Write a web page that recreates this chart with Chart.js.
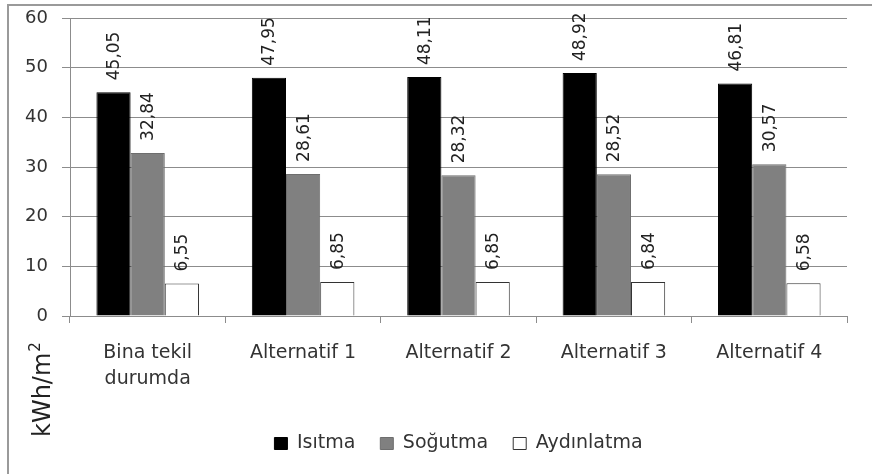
<!DOCTYPE html>
<html>
<head>
<meta charset="utf-8">
<script src="https://cdn.jsdelivr.net/npm/chart.js@4.4.0/dist/chart.umd.min.js"></script>
<style>
  html, body { margin: 0; padding: 0; background: #fff; }
  #wrap { position: relative; width: 872px; height: 474px; overflow: hidden; }
  #frame { position: absolute; left: 7px; top: 4px; width: 900px; height: 500px;
           border-left: 2px solid #9a9a9a; border-top: 2px solid #9a9a9a; }
  canvas { position: absolute; left: 0; top: 0; }
</style>
</head>
<body>
<div id="wrap">
  <div id="frame"></div>
  <canvas id="c" width="872" height="474"></canvas>
</div>
<script>
const categories = [["Bina tekil", "durumda"], "Alternatif 1", "Alternatif 2", "Alternatif 3", "Alternatif 4"];
const seriesNames = ["Isıtma", "Soğutma", "Aydınlatma"];
const isitma = [45.05, 47.95, 48.11, 48.92, 46.81];
const sogutma = [32.84, 28.61, 28.32, 28.52, 30.57];
const aydinlatma = [6.55, 6.85, 6.85, 6.84, 6.58];
const yTicks = [0, 10, 20, 30, 40, 50, 60];

const FONT = "'DejaVu Sans', sans-serif";

const valueLabels = {
  id: 'valueLabels',
  afterDatasetsDraw(chart) {
    const ctx = chart.ctx;
    ctx.save();
    ctx.font = "17px " + FONT;
    ctx.fillStyle = '#222';
    ctx.textAlign = 'left';
    ctx.textBaseline = 'middle';
    chart.data.datasets.forEach((ds, di) => {
      const meta = chart.getDatasetMeta(di);
      meta.data.forEach((el, i) => {
        const txt = ds.data[i].toFixed(2).replace('.', ',');
        ctx.save();
        ctx.translate(el.x + 1, el.y - 12);
        ctx.rotate(-Math.PI / 2);
        ctx.fillText(txt, 0, 0);
        ctx.restore();
      });
    });
    ctx.restore();
  }
};

const yTitle = {
  id: 'yTitle',
  afterDraw(chart) {
    const ctx = chart.ctx;
    ctx.save();
    ctx.fillStyle = '#222';
    ctx.translate(50, 437);
    ctx.rotate(-Math.PI / 2);
    ctx.textAlign = 'left';
    ctx.textBaseline = 'alphabetic';
    ctx.font = "24px " + FONT;
    const main = 'kWh/m';
    ctx.fillText(main, 0, 0);
    const w = ctx.measureText(main).width;
    ctx.font = "15px " + FONT;
    ctx.fillText('2', w + 1, -10);
    ctx.restore();
  }
};

new Chart(document.getElementById('c'), {
  type: 'bar',
  data: {
    labels: categories,
    datasets: [
      { label: seriesNames[0], data: isitma, backgroundColor: '#000000', borderColor: '#000000', borderWidth: 1 },
      { label: seriesNames[1], data: sogutma, backgroundColor: '#808080', borderColor: '#6e6e6e', borderWidth: 1 },
      { label: seriesNames[2], data: aydinlatma, backgroundColor: '#ffffff', borderColor: '#333333', borderWidth: 1 }
    ]
  },
  options: {
    responsive: false,
    animation: false,
    devicePixelRatio: 1,
    layout: { padding: { left: 8, right: 25, top: 18, bottom: 11 } },
    datasets: { bar: { barPercentage: 1.0, categoryPercentage: 0.66 } },
    plugins: {
      legend: {
        position: 'bottom',
        fullSize: false,
        labels: {
          boxWidth: 13, boxHeight: 12, padding: 25,
          color: '#333', font: { family: FONT, size: 19 }
        }
      },
      tooltip: { enabled: false }
    },
    scales: {
      x: {
        grid: { display: true, drawOnChartArea: false, drawTicks: true, tickLength: 7, color: '#8c8c8c', offset: true },
        border: { color: '#8c8c8c' },
        ticks: { color: '#333', font: { family: FONT, size: 19, lineHeight: 1.37 }, padding: 17, maxRotation: 0, autoSkip: false },
        afterFit(s) { s.height = 93; }
      },
      y: {
        min: 0, max: 60,
        afterBuildTicks(s) { s.ticks = yTicks.map(v => ({ value: v })); },
        grid: { color: '#8c8c8c', tickLength: 8 },
        border: { color: '#8c8c8c' },
        ticks: { color: '#333', font: { family: FONT, size: 18 }, padding: 14 },
        afterFit(s) { s.width = 62; s.paddingTop = 0; s.paddingBottom = 0; }
      }
    }
  },
  plugins: [valueLabels, yTitle]
});
</script>
</body>
</html>
